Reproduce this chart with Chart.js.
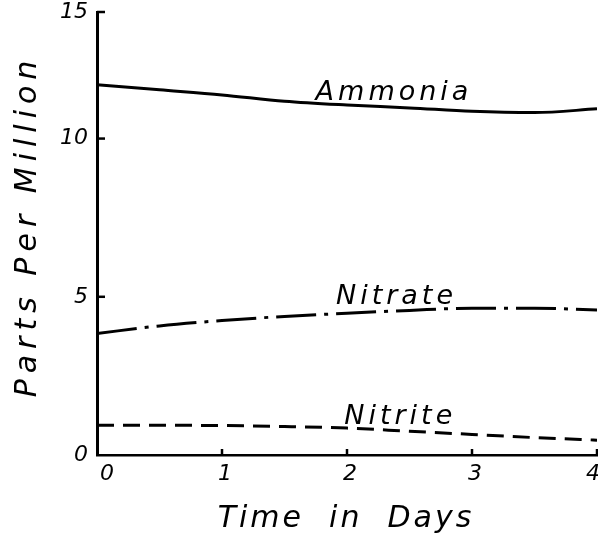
<!DOCTYPE html>
<html>
<head>
<meta charset="utf-8">
<script src="https://cdn.jsdelivr.net/npm/chart.js@4/dist/chart.umd.min.js"></script>
<style>
  html, body { margin: 0; padding: 0; background: #fff; }
  #wrap { width: 598px; height: 539px; }
</style>
</head>
<body>
<div id="wrap"><canvas id="c" width="598" height="539"></canvas></div>
<script>
// ---- data ----
const days = [0, 0.5, 1, 1.5, 2, 2.5, 3, 3.5, 4];
const ammonia = [11.70, 11.54, 11.38, 11.18, 11.06, 10.97, 10.86, 10.82, 10.94];
const nitrate = [3.84, 4.08, 4.25, 4.38, 4.48, 4.57, 4.64, 4.64, 4.58];
const nitrite = [0.94, 0.94, 0.93, 0.90, 0.85, 0.75, 0.65, 0.55, 0.47];
const seriesNames = ['Ammonia', 'Nitrate', 'Nitrite'];
const xTickValues = [0, 1, 2, 3, 4];
const xTickLabels = ['0', '1', '2', '3', '4'];
const yTickValues = [0, 5, 10, 14];
const yTickLabels = ['0', '5', '10', '15'];
const xTitle = 'Time  in  Days';
const yTitle = 'Parts Per Million';

const FONT = '"DejaVu Sans", sans-serif';
const pts = arr => days.map((d, i) => ({ x: d, y: arr[i] }));

function interp(arr, x) {
  for (let i = 0; i < days.length - 1; i++) {
    if (x >= days[i] && x <= days[i + 1]) {
      const t = (x - days[i]) / (days[i + 1] - days[i]);
      return arr[i] + t * (arr[i + 1] - arr[i]);
    }
  }
  return arr[arr.length - 1];
}

const deco = {
  id: 'deco',
  afterDraw(chart) {
    const { ctx, chartArea: a, scales: { x, y } } = chart;
    ctx.save();
    ctx.strokeStyle = '#000';
    ctx.lineWidth = 2.5;
    // inward tick stubs
    yTickValues.forEach(v => {
      if (v === 0) return;
      const py = y.getPixelForValue(v);
      ctx.beginPath(); ctx.moveTo(a.left, py); ctx.lineTo(a.left + 8, py); ctx.stroke();
    });
    xTickValues.forEach(v => {
      if (v === 0) return;
      const px = x.getPixelForValue(v);
      ctx.beginPath(); ctx.moveTo(px, a.bottom); ctx.lineTo(px, a.bottom - 6); ctx.stroke();
    });
    ctx.fillStyle = '#000';
    // series labels above their curves
    const labelX = [2.36, 2.38, 2.41];
    const arrs = [ammonia, nitrate, nitrite];
    ctx.font = 'italic 27px ' + FONT;
    ctx.textAlign = 'center';
    ctx.textBaseline = 'alphabetic';
    try { ctx.letterSpacing = '4px'; } catch (e) {}
    seriesNames.forEach((n, i) => {
      const px = x.getPixelForValue(labelX[i]);
      const py = y.getPixelForValue(interp(arrs[i], labelX[i])) - 7;
      ctx.fillText(n, px + 2, py);
    });
    // axis titles
    ctx.font = 'italic 30px ' + FONT;
    try { ctx.letterSpacing = '3px'; } catch (e) {}
    ctx.fillText(xTitle, 346, 527);
    ctx.save();
    ctx.translate(36, 226);
    ctx.rotate(-Math.PI / 2);
    try { ctx.letterSpacing = '6px'; } catch (e) {}
    ctx.fillText(yTitle, 0, 0);
    ctx.restore();
    ctx.restore();
  }
};

new Chart(document.getElementById('c'), {
  type: 'line',
  data: {
    datasets: [
      { label: seriesNames[0], data: pts(ammonia), borderColor: '#000', borderWidth: 3, pointRadius: 0, tension: 0.4, cubicInterpolationMode: 'monotone', fill: false },
      { label: seriesNames[1], data: pts(nitrate), borderColor: '#000', borderWidth: 3, borderDash: [40, 8, 4, 8], pointRadius: 0, tension: 0.4, cubicInterpolationMode: 'monotone', fill: false },
      { label: seriesNames[2], data: pts(nitrite), borderColor: '#000', borderWidth: 3, borderDash: [17, 9], pointRadius: 0, tension: 0.4, cubicInterpolationMode: 'monotone', fill: false }
    ]
  },
  options: {
    responsive: false,
    animation: false,
    layout: { padding: { top: 12, right: 1, left: 0, bottom: 0 } },
    plugins: { legend: { display: false }, tooltip: { enabled: false } },
    scales: {
      x: {
        type: 'linear', min: 0, max: 4,
        afterBuildTicks: s => { s.ticks = xTickValues.map(v => ({ value: v })); },
        afterFit: s => { s.height = 84; s.paddingLeft = 0; s.paddingRight = 0; },
        grid: { display: false, drawTicks: false },
        border: { display: true, color: '#000', width: 2.5 },
        ticks: {
          color: '#000', padding: 6, labelOffset: 3, maxRotation: 0, align: 'inner',
          font: { family: FONT, size: 22, style: 'italic' },
          callback: (v, i) => xTickLabels[i]
        }
      },
      y: {
        type: 'linear', min: 0, max: 14,
        afterBuildTicks: s => { s.ticks = yTickValues.map(v => ({ value: v })); },
        afterFit: s => { s.width = 97; s.paddingTop = 0; s.paddingBottom = 0; },
        grid: { display: false, drawTicks: false },
        border: { display: true, color: '#000', width: 3 },
        ticks: {
          color: '#000', padding: 9,
          font: { family: FONT, size: 22, style: 'italic' },
          callback: (v, i) => yTickLabels[i]
        }
      }
    }
  },
  plugins: [deco]
});
</script>
</body>
</html>
